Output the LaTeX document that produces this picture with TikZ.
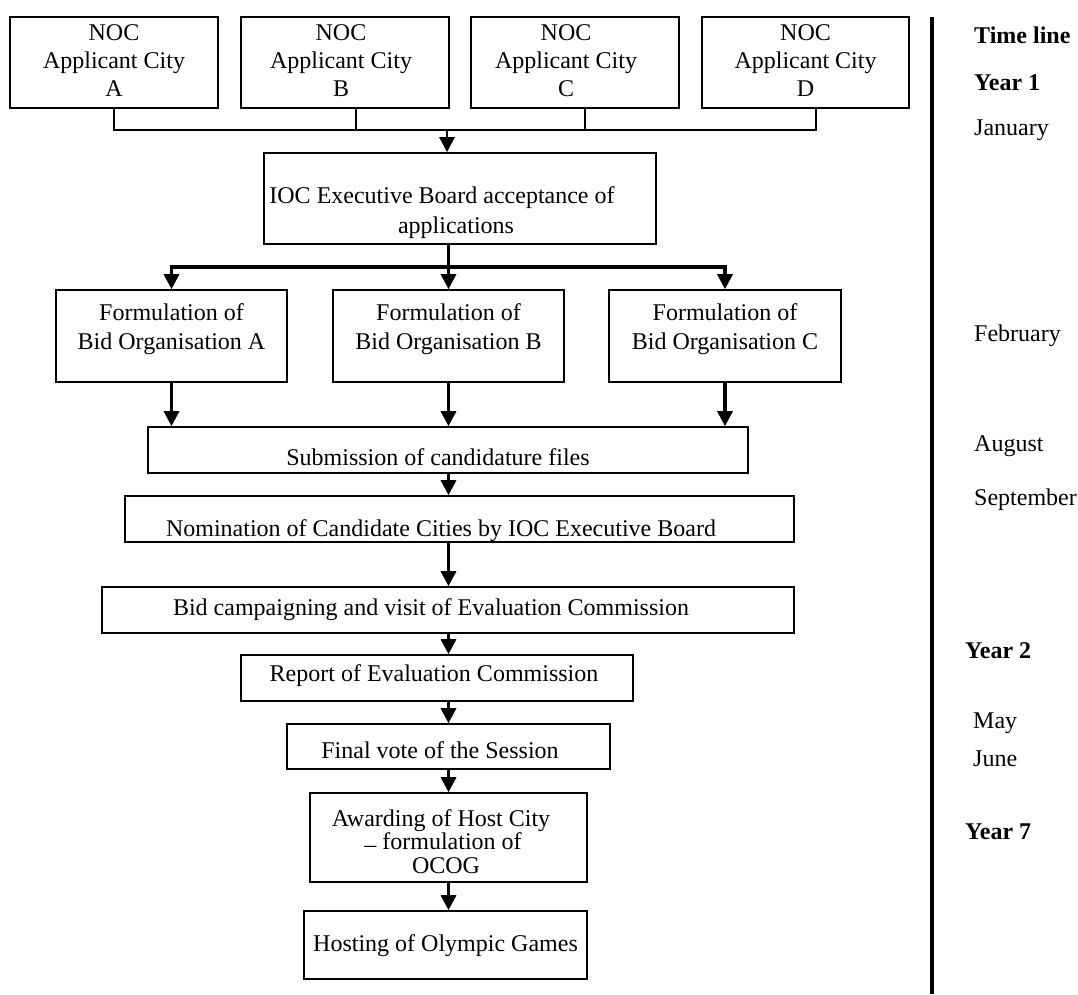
\documentclass[tikz,border=0pt]{standalone}
\usepackage{fontspec}
\setmainfont{Liberation Serif}
\usetikzlibrary{arrows.meta,calc}
\newcommand{\myTop}[1]{\rule{0pt}{#1}}
\newcommand{\myBot}[1]{\rule[-#1]{0pt}{#1}}
\newcommand{\myGap}[1]{\rule{#1}{0pt}}
\begin{document}
\begin{tikzpicture}[x=1pt,y=-1pt,
  box/.style={draw, line width=1.6pt, inner sep=0pt, align=center, font=\fontsize{24}{28}\selectfont},
  onebox/.style={draw, line width=1.6pt, inner sep=0pt, font=\fontsize{24}{28}\selectfont},
  conn/.style={line width=1.6pt},
  fork/.style={line width=3.2pt},
  arr/.style={line width=3.2pt, -{Triangle[width=15pt,length=15pt]}},
  arrthin/.style={line width=2.4pt, -{Triangle[width=15pt,length=15pt]}},
  tl/.style={anchor=west, inner sep=0pt, text height=22pt, text depth=6pt, font=\fontsize{24}{28}\selectfont}]
\useasboundingbox (0,0) rectangle (1078,994);

% NOC applicant boxes
\node[box, minimum width=208pt, minimum height=91pt] (na) at (114,62.5) {\myTop{22pt}NOC\\Applicant City\\A\myBot{11pt}};
\node[box, minimum width=208pt, minimum height=91pt] (nb) at (345,62.5) {\myTop{22pt}NOC\myGap{8pt}\\Applicant City\myGap{8pt}\\B\myGap{8pt}\myBot{11pt}};
\node[box, minimum width=208pt, minimum height=91pt] (nc) at (575,62.5) {\myTop{22pt}NOC\myGap{18pt}\\Applicant City\myGap{18pt}\\C\myGap{18pt}\myBot{11pt}};
\node[box, minimum width=207pt, minimum height=91pt] (nd) at (805.5,62.5) {\myTop{22pt}NOC\\Applicant City\\D\myBot{11pt}};

% IOC acceptance
\node[box, minimum width=392pt, minimum height=91pt, font=\fontsize{24}{30}\selectfont] (ioc) at (460,198.5)
  {\myTop{45pt}IOC Executive Board acceptance of\myGap{36pt}\\applications\myGap{8pt}\myBot{6pt}};

% Bid organisations
\node[box, minimum width=231pt, minimum height=92pt, font=\fontsize{24}{28.5}\selectfont] (ba) at (171.5,336) {\myTop{22pt}Formulation of\\Bid Organisation A\myBot{24pt}};
\node[box, minimum width=231pt, minimum height=92pt, font=\fontsize{24}{28.5}\selectfont] (bb) at (448.5,336) {\myTop{22pt}Formulation of\\Bid Organisation B\myBot{24pt}};
\node[box, minimum width=232pt, minimum height=92pt, font=\fontsize{24}{28.5}\selectfont] (bc) at (725,336) {\myTop{22pt}Formulation of\\Bid Organisation C\myBot{24pt}};

% single-line stages
\node[onebox, minimum width=600pt, minimum height=46pt, text height=36pt, text depth=6pt] (sub) at (448,450) {Submission of candidature files\myGap{20pt}};
\node[onebox, minimum width=669pt, minimum height=46pt, text height=40pt, text depth=6pt] (nom) at (459.5,519) {Nomination of Candidate Cities by IOC Executive Board\myGap{37pt}};
\node[onebox, minimum width=692pt, minimum height=46pt, text height=16pt, text depth=6pt] (camp) at (448,610) {Bid campaigning and visit of Evaluation Commission\myGap{34pt}};
\node[onebox, minimum width=392pt, minimum height=46pt, text height=12pt, text depth=6pt] (rep) at (437,678) {Report of Evaluation Commission\myGap{6pt}};
\node[onebox, minimum width=323pt, minimum height=45pt, text height=29pt, text depth=6pt] (fin) at (448.5,746.5) {Final vote of the Session\myGap{17pt}};
\node[box, minimum width=277pt, minimum height=89pt, font=\fontsize{24}{23.5}\selectfont] (awd) at (448.5,837.5)
  {\myTop{30pt}Awarding of Host City\myGap{15pt}\\\raisebox{-3pt}{–} formulation of\myGap{11pt}\\OCOG\myGap{5pt}\myBot{6pt}};
\node[onebox, minimum width=283pt, minimum height=68pt, text height=18pt, text depth=6pt] (host) at (445.5,945) {Hosting of Olympic Games};

% connectors from NOC boxes
\coordinate (j) at (447,130);
\coordinate (sp) at (448.5,0);
\draw[conn] (na.south) |- (j);
\draw[conn] ([xshift=11pt]nb.south) -- ([xshift=11pt]nb.south |- j);
\draw[conn] ([xshift=10pt]nc.south) -- ([xshift=10pt]nc.south |- j);
\draw[conn] ([xshift=10.5pt]nd.south) |- (j);
\draw[arrthin] (j) -- (j |- ioc.north);

% fork to bid organisations
\coordinate (f) at (448.5,267);
\draw[fork] ([xshift=-11.5pt]ioc.south) -- (f);
\draw[arr] (f) -| (ba.north);
\draw[arr] (f) -- (bb.north);
\draw[arr] (f) -| (bc.north);

% bid organisations to submission
\draw[arr] (ba.south) -- (ba.south |- sub.north);
\draw[arr] (bb.south) -- (bb.south |- sub.north);
\draw[arr] (bc.south) -- (bc.south |- sub.north);

% main spine
\draw[arr] (sub.south -| sp) -- (nom.north -| sp);
\draw[arr] (nom.south -| sp) -- (camp.north -| sp);
\draw[arr] (camp.south -| sp) -- (rep.north -| sp);
\draw[arr] (rep.south -| sp) -- (fin.north -| sp);
\draw[arr] (fin.south -| sp) -- (awd.north -| sp);
\draw[arr] (awd.south -| sp) -- (host.north -| sp);

% time line
\coordinate (tlt) at (932,17);
\coordinate (tlb) at (932,994);
\draw[line width=3.2pt] (tlt) -- (tlb);
\node[tl, font=\fontsize{24}{28}\selectfont\bfseries] (t0) at (974,35) {Time line};
\node[tl, font=\fontsize{24}{28}\selectfont\bfseries] (t1) at (974,82) {Year 1};
\node[tl] (t2) at (974,127) {January};
\node[tl] (t3) at (974,333) {February};
\node[tl] (t4) at (974,443) {August};
\node[tl] (t5) at (974,497) {September};
\node[tl, font=\fontsize{24}{28}\selectfont\bfseries] (t6) at (965,650) {Year 2};
\node[tl] (t7) at (973,720) {May};
\node[tl] (t8) at (973,758) {June};
\node[tl, font=\fontsize{24}{28}\selectfont\bfseries] (t9) at (965,831) {Year 7};
\end{tikzpicture}
\end{document}
